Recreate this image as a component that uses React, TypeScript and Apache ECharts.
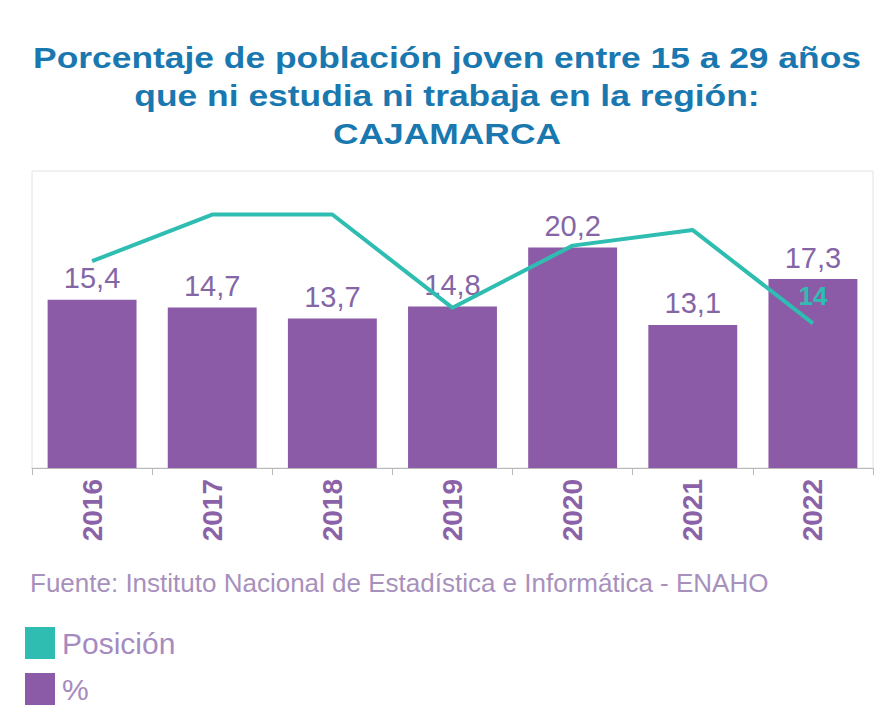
import React, { useEffect, useRef } from "react";
import * as echarts from "echarts";

const years = ["2016", "2017", "2018", "2019", "2020", "2021", "2022"];
const pct = [15.4, 14.7, 13.7, 14.8, 20.2, 13.1, 17.3];
const posicion = [10, 7, 7, 13, 9, 8, 14];
const titleText = "Porcentaje de población joven entre 15 a 29 años\nque ni estudia ni trabaja en la región:\nCAJAMARCA";
const sourceText = "Fuente: Instituto Nacional de Estadística e Informática - ENAHO";

const TEAL = "#2ebdb0";
const PURPLE = "#8b5ba8";
const FONT = "'Liberation Sans', Arial, sans-serif";

export default function App() {
  const ref = useRef<HTMLDivElement>(null);
  useEffect(() => {
    if (!ref.current) return;
    const chart = echarts.init(ref.current, null, { renderer: "svg" });
    const last = posicion.length - 1;
    chart.setOption({
      animation: false,
      backgroundColor: "#ffffff",
      legend: {
        orient: "vertical",
        left: 20,
        top: 622,
        itemWidth: 30,
        itemHeight: 32,
        itemGap: 14,
        icon: "rect",
        data: ["Posición", "%"],
        textStyle: { color: "#a58bc0", fontSize: 30, fontFamily: FONT, padding: [0, 0, 0, 2] },
      },
      graphic: [
        {
          type: "text",
          x: 447,
          y: 38,
          scaleX: 1.18,
          style: {
            text: titleText,
            fill: "#1a78b0",
            fontSize: 30,
            fontWeight: "bold",
            fontFamily: FONT,
            lineHeight: 38,
            align: "center",
            verticalAlign: "top",
          },
        },
        {
          type: "text",
          x: 30,
          y: 570,
          style: { text: sourceText, fill: "#a890bd", fontSize: 26, fontFamily: FONT, verticalAlign: "top" },
        },
      ],
      grid: {
        left: 32,
        right: 11,
        top: 171,
        bottom: 256,
        show: true,
        borderColor: "#e2e2e2",
        borderWidth: 1,
      },
      xAxis: {
        type: "category",
        data: years,
        axisLine: { lineStyle: { color: "#b8b8b8", width: 1 } },
        axisTick: { show: true, length: 7, lineStyle: { color: "#b8b8b8" } },
        axisLabel: {
          rotate: 90,
          color: "#8b62a8",
          fontSize: 28,
          fontWeight: "bold",
          fontFamily: FONT,
          margin: 11,
        },
      },
      yAxis: [
        { type: "value", min: 0, max: 27.2, show: false, splitLine: { show: false } },
        { type: "value", min: 4.2, max: 23.3, inverse: true, show: false, splitLine: { show: false } },
      ],
      series: [
        {
          name: "%",
          type: "bar",
          data: pct,
          barCategoryGap: "26%",
          itemStyle: { color: PURPLE },
          label: {
            show: true,
            position: "top",
            distance: 7,
            color: "#8466a6",
            fontSize: 29,
            fontFamily: FONT,
            formatter: (p: any) => String(p.value).replace(".", ","),
          },
        },
        {
          name: "Posición",
          type: "line",
          yAxisIndex: 1,
          data: posicion,
          symbol: "circle",
          symbolSize: 0.1,
          showSymbol: true,
          itemStyle: { color: TEAL },
          lineStyle: { color: TEAL, width: 4 },
          label: {
            show: true,
            position: "top",
            distance: 14,
            color: TEAL,
            fontSize: 26,
            fontWeight: "bold",
            fontFamily: FONT,
            formatter: (p: any) => (p.dataIndex === last ? String(p.value) : ""),
          },
          z: 5,
        },
      ],
    });
    return () => chart.dispose();
  }, []);
  return (
    <div
      ref={ref}
      style={{ position: "fixed", left: 0, top: 0, width: 884, height: 724 }}
    />
  );
}
